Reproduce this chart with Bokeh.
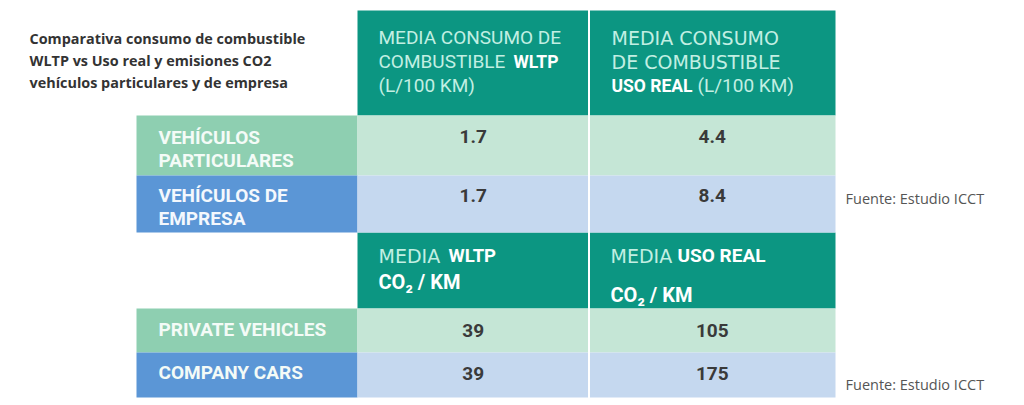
from bokeh.plotting import figure
from bokeh.models import Range1d
from bokeh.embed import file_html
from bokeh.resources import INLINE
from bokeh.core.properties import value

# ---------------- data ----------------
title_lines = ["Comparativa consumo de combustible",
               "WLTP vs Uso real y emisiones CO2",
               "vehículos particulares y de empresa"]
row_labels_es = [["VEHÍCULOS", "PARTICULARES"], ["VEHÍCULOS DE", "EMPRESA"]]
row_labels_en = ["PRIVATE VEHICLES", "COMPANY CARS"]
consumo_wltp = [1.7, 1.7]
consumo_real = [4.4, 8.4]
co2_wltp = [39, 39]
co2_real = [105, 175]
source_text = "Fuente: Estudio ICCT"

# ---------------- style ----------------
TEAL = "#0c9682"
MINT_TXT = "#c2efe3"
GREEN_LBL = "#8ecfb1"
GREEN_DATA = "#c5e6d6"
BLUE_LBL = "#5b96d6"
BLUE_DATA = "#c5d8ef"
DARK = "#3a3a3a"

W, H = 1024, 405
p = figure(width=W, height=H, output_backend="svg", toolbar_location=None,
           x_range=Range1d(0, W), y_range=Range1d(H, 0),
           min_border=0, outline_line_color=None, background_fill_color="white")
p.axis.visible = False
p.grid.visible = False

# column / row geometry (pixels)
xl, x0, xm, x1 = 136, 357, 588.5, 835
h1_top, r1_top, r2_top, h2_top, r3_top, r4_top, bottom = 10, 115, 175, 232, 308, 352, 397

# header blocks
p.quad(left=[x0, xm + 1], right=[xm - 1, x1], top=[h1_top] * 2, bottom=[r1_top] * 2,
       fill_color=TEAL, line_color=None)
p.quad(left=[x0, xm + 1], right=[xm - 1, x1], top=[h2_top] * 2, bottom=[r3_top] * 2,
       fill_color=TEAL, line_color=None)

# label cells
p.quad(left=[xl] * 4, right=[x0] * 4, top=[r1_top, r2_top, r3_top, r4_top],
       bottom=[r2_top, h2_top, r4_top, bottom],
       fill_color=[GREEN_LBL, BLUE_LBL, GREEN_LBL, BLUE_LBL], line_color=None)
# data cells
for lft, rgt in [(x0, xm - 1), (xm + 1, x1)]:
    p.quad(left=[lft] * 4, right=[rgt] * 4, top=[r1_top, r2_top, r3_top, r4_top],
           bottom=[r2_top, h2_top, r4_top, bottom],
           fill_color=[GREEN_DATA, BLUE_DATA, GREEN_DATA, BLUE_DATA], line_color=None)


def txt(xs, ys, texts, font="Roboto", size=17, color=DARK, style="normal", align="left"):
    p.text(x=xs, y=ys, text=texts, text_font=value(font), text_font_size=f"{size}px",
           text_color=color, text_font_style=style, text_align=align, text_baseline="middle")


# title
txt([29] * 3, [38, 60, 82], title_lines, font="Open Sans", size=14.4, color="#333333", style="bold")

# header 1, column 1
txt([378, 378, 378], [37, 61, 85], ["MEDIA CONSUMO DE", "COMBUSTIBLE", "(L/100 KM)"],
    size=19, color=MINT_TXT)
txt([513], [61], ["WLTP"], size=17.5, color="white", style="bold")
# header 1, column 2
txt([611, 611], [37, 61], ["MEDIA CONSUMO", "DE COMBUSTIBLE"], font="DejaVu Sans",
    size=19, color=MINT_TXT)
txt([611], [85], ["USO REAL"], size=17.5, color="white", style="bold")
txt([697], [85], ["(L/100 KM)"], size=19, color=MINT_TXT)

# header 2
txt([378], [255], ["MEDIA"], font="DejaVu Sans", size=19, color=MINT_TXT)
txt([448], [255], ["WLTP"], size=18.5, color="white", style="bold")
txt([378], [281], ["CO₂ / KM"], size=20, color="white", style="bold")
txt([610], [255], ["MEDIA"], font="DejaVu Sans", size=19, color=MINT_TXT)
txt([677], [255], ["USO REAL"], size=19, color="white", style="bold")
txt([610], [294], ["CO₂ / KM"], size=20, color="white", style="bold")

# row labels
lbl_x = 158
txt([lbl_x] * 2, [137, 160], row_labels_es[0], size=19, color="#f4fbf7", style="bold")
txt([lbl_x] * 2, [195, 218], row_labels_es[1], size=19, color="#f4f8fd", style="bold")
txt([lbl_x] * 2, [329, 372], row_labels_en, size=19, color="#f4fbf7", style="bold")

# values
cx1, cx2 = (x0 + xm) / 2, (xm + x1) / 2
txt([cx1] * 2, [136, 195], [f"{v:.1f}" for v in consumo_wltp], size=19, style="bold", align="center")
txt([cx2] * 2, [136, 195], [f"{v:.1f}" for v in consumo_real], size=19, style="bold", align="center")
txt([cx1] * 2, [330, 373], [str(v) for v in co2_wltp], size=19, style="bold", align="center")
txt([cx2] * 2, [330, 373], [str(v) for v in co2_real], size=19, style="bold", align="center")

# sources
txt([845, 845], [198, 384], [source_text] * 2, font="Open Sans", size=14.5, color="#555555")

open("out.html", "w").write(file_html(p, INLINE))
